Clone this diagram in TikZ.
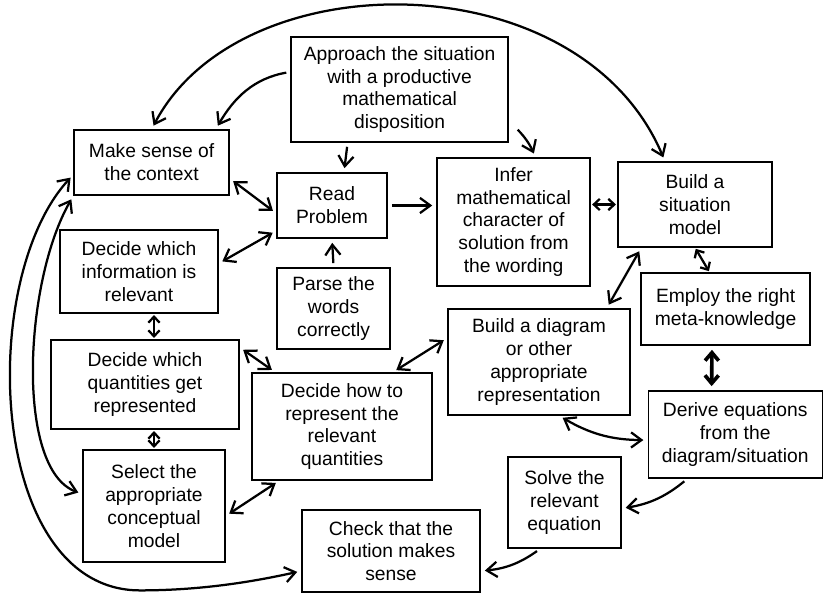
\documentclass[tikz,border=0pt]{standalone}
\usepackage{fontspec}
\setmainfont{Liberation Sans}
\usetikzlibrary{arrows.meta}
\tikzset{
		box/.style={draw, rectangle, line width=0.9pt, align=center, inner sep=2pt,
			font=\fontsize{13.7}{16.2}\selectfont},
		link/.style={line width=1.6pt},
		small tips/.style={shorten >=1pt, shorten <=1pt, >={Straight Barb[length=1.5mm,width=2.8mm]}},
		heavy link/.style={line width=2.6pt, >={Straight Barb[length=2mm,width=3.4mm]}}
	}

\begin{document}
\begin{tikzpicture}[>={Straight Barb[length=2.6mm,width=3.8mm]},shorten >=3pt,shorten <=3pt]
				\useasboundingbox (0,0) rectangle (20.575,-14.85);

				\node[box, minimum width=5.425cm, minimum height=2.625cm] (appr)   at (9.99,-2.2375)  {Approach the situation\\with a productive\\mathematical\\disposition};
				\node[box, minimum width=3.875cm, minimum height=1.625cm] (sense)  at (3.79,-4.0625)  {Make sense of\\the context};
				\node[box, minimum width=2.75cm,  minimum height=1.625cm] (read)   at (8.3,-5.1375)   {Read\\Problem};
				\node[box, minimum width=3.825cm, minimum height=3.2cm]   (infer)  at (12.84,-5.55)   {Infer\\mathematical\\character of\\solution from\\the wording};
				\node[box, minimum width=3.85cm,  minimum height=2.125cm] (sitmod) at (17.375,-5.1125) {Build a\\situation\\model};
				\node[box, minimum width=3.95cm,  minimum height=2.075cm] (info)   at (3.475,-6.7875) {Decide which\\information is\\relevant};
				\node[box, minimum width=2.825cm, minimum height=2.025cm] (parse)  at (8.34,-7.7125)  {Parse the\\words\\correctly};
				\node[box, minimum width=4.225cm, minimum height=1.8cm]   (employ) at (18.14,-7.725)  {Employ the right\\meta-knowledge};
				\node[box, minimum width=4.55cm,  minimum height=2.65cm]  (diag)   at (13.475,-9.05)  {Build a diagram\\or other\\appropriate\\representation};
				\node[box, minimum width=4.7cm,   minimum height=2.225cm] (quant)  at (3.625,-9.6125) {Decide which\\quantities get\\represented};
				\node[box, minimum width=4.5cm,   minimum height=2.675cm] (howrep) at (8.55,-10.6625) {Decide how to\\represent the\\relevant\\quantities};
				\node[box, minimum width=4.35cm,  minimum height=2.175cm] (derive) at (18.38,-10.8625) {Derive equations\\from the\\diagram/situation};
				\node[box, minimum width=2.825cm, minimum height=2.275cm] (solve)  at (14.11,-12.5625) {Solve the\\relevant\\equation};
				\node[box, minimum width=3.55cm,  minimum height=2.8cm]   (select) at (3.85,-12.65)   {Select the\\appropriate\\conceptual\\model};
				\node[box, minimum width=4.45cm,  minimum height=2.05cm]  (check)  at (9.775,-13.775) {Check that the\\solution makes\\sense};

				% from the disposition box
				\draw[<->, link] (sense.north) .. controls (6.0,1.0) and (14.5,1.0) .. ([xshift=-7.5mm]sitmod.north);
				\path[->, link] ([yshift=4.4mm]appr.west) edge [out=190, in=60] ([xshift=-3.5mm]sense.north east);
				\path[->, link] ([xshift=-1.3cm]appr.south) edge ([xshift=3mm]read.north);
				\path[->, link] ([xshift=1.5mm,yshift=4mm]appr.south east) edge [bend left=10] ([xshift=5.5mm]infer.north);

				% top row
				\path[<->, link] ([yshift=-4mm]sense.east) edge ([yshift=-2mm]read.west);
				\path[->, link]  (read.east) edge (read.east -| infer.west);
				\path[<->, link, small tips] (sitmod.west -| infer.east) edge (sitmod.west);
				\path[->, link]  (parse.north) edge (read.south);
				\path[<->, link] ([yshift=2mm]info.east) edge ([yshift=2mm]read.south west);
				\path[<->, link, small tips] (sitmod.south) edge ([xshift=-4mm]employ.north);
				\path[<->, link] ([xshift=6mm]sitmod.south west) edge ([xshift=-6mm]diag.north east);

				% middle
				\path[<->, link, small tips] (info.south -| select.north) edge (quant.north -| select.north);
				\path[<->, link, small tips] (quant.south -| select.north) edge (select.north);
				\path[<->, link] ([yshift=-2mm]quant.north east) edge ([xshift=6mm]howrep.north west);
				\path[<->, link] ([xshift=-1cm]howrep.north east) edge ([yshift=6mm]diag.west);
				\path[<->, heavy link] ([xshift=-3.4mm]employ.south) edge ([xshift=-5.9mm]derive.north);
				\path[<->, link] ([xshift=5mm]diag.south) edge [bend right=15] ([yshift=-1.4mm]derive.west);
				\path[<->, link] ([xshift=7mm]howrep.south west) edge ([yshift=-2.5mm]select.east);

				% bottom
				\path[->, link] ([xshift=1cm]derive.south west) edge [bend left=15] ([yshift=-1.5mm]solve.east);
				\path[->, link] ([xshift=-6mm]solve.south) edge [bend left=15] ([yshift=-5mm]check.east);

				% round the left side
				\draw[<->, link] ([yshift=-3mm]sense.west) .. controls (-0.6,-7.0) and (-0.3,-14.76) .. (3.5,-14.76)
					.. controls (5.0,-14.76) and (6.3,-14.55) .. ([yshift=-5mm]check.west);
				\draw[<->, link] (sense.south west) .. controls (0.6,-7.04) and (0.38,-11.73) .. ([yshift=3mm]select.west);
			\end{tikzpicture}
\end{document}
